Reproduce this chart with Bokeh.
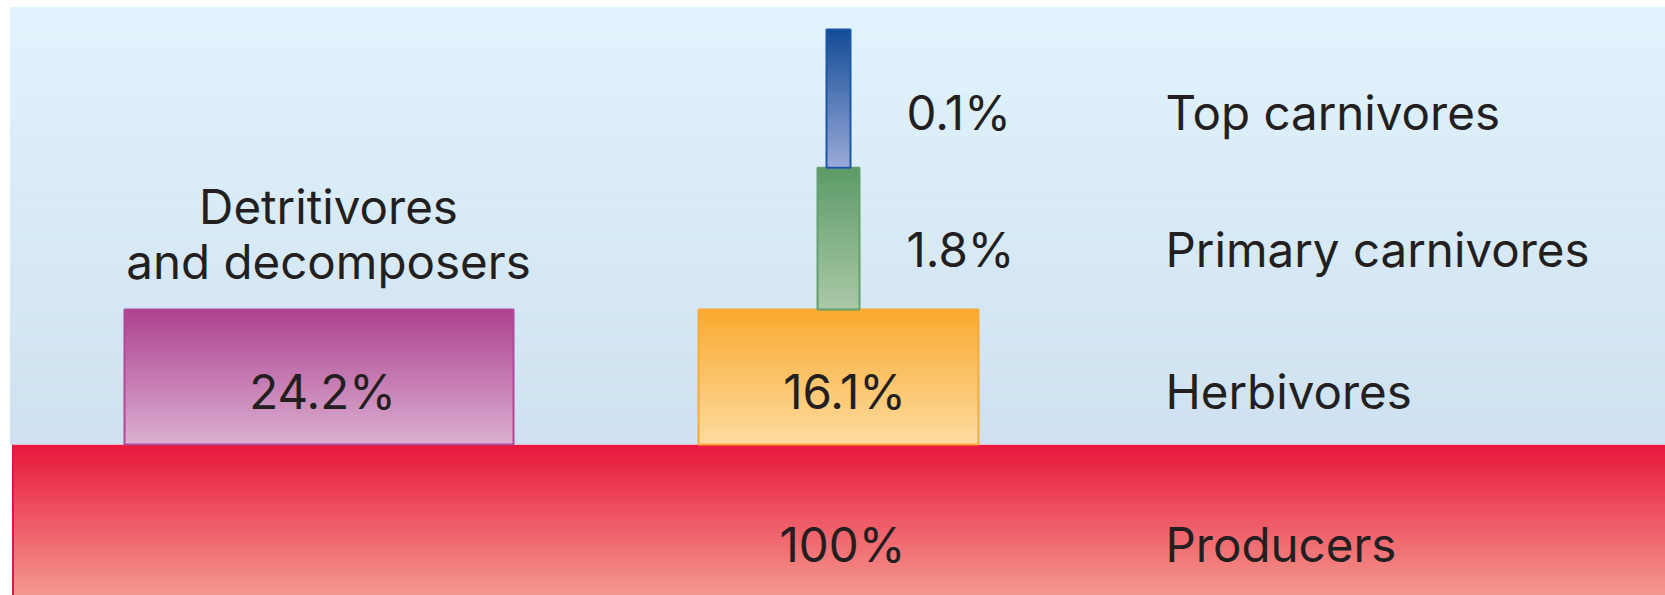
from bokeh.plotting import figure
from bokeh.models import Range1d, ColumnDataSource
from bokeh.core.properties import value
from bokeh.embed import file_html
from bokeh.resources import INLINE

# ---------------- data ----------------
levels = ["Producers", "Herbivores", "Primary carnivores", "Top carnivores"]
energy_pct = [100.0, 16.1, 1.8, 0.1]
detritus_lines = ["Detritivores", "and decomposers"]
detritus_pct = 24.2

# ---------------- layout (diagram geometry / styles) ----------------
# horizontal: page pixels; vertical: trophic level units (level i occupies i..i+1)
col_center = 838
bar_halfwidth = [None, 140, 21, 12]          # producers span full width
detr_left, detr_right = 124, 513
prod_left, prod_right = 12, 1700
bar_top = [1.0, 1.976, 3.0, 4.0]
bar_bottom = [-0.2, 1.0, 1.976, 3.0]
sky_top = 4.159

top_colors = ["#E8173D", "#F9A92E", "#5C9B68", "#124C97"]
bottom_colors = ["#F5A595", "#FEDCA0", "#AAC8A6", "#9AA9D8"]
edge_colors = [None, "#F7AA36", "#63A06D", "#1B57A6"]
detr_top, detr_bottom, detr_edge = "#AE4190", "#DAB0D1", "#B04995"
bg_top, bg_bottom = "#E1F3FC", "#CFE1F0"

label_x = 1165
pct_x = [842, 844, 906, 906]
pct_align = ["center", "center", "left", "left"]
row_baseline = [0.280, 1.383, 2.410, 3.400]
detr_pct_x = 322
detr_label_x = 328
detr_label_y = [2.721, 2.323]

FONT = value("Inter")
FSIZE = "47.5px"
TCOLOR = "#231F20"


def hex2rgb(h):
    h = h.lstrip("#")
    return tuple(int(h[i:i + 2], 16) for i in (0, 2, 4))


def strips(left, right, bottom, top, c_top, c_bot, n=60):
    a, b = hex2rgb(c_top), hex2rgb(c_bot)
    L, R, B, T, C = [], [], [], [], []
    h = (top - bottom) / n
    for i in range(n):
        t = (i + 0.5) / n
        col = "#%02x%02x%02x" % tuple(round(a[k] + (b[k] - a[k]) * t) for k in range(3))
        L.append(left)
        R.append(right)
        T.append(top - i * h)
        B.append(top - (i + 1) * h)
        C.append(col)
    return ColumnDataSource(dict(left=L, right=R, bottom=B, top=T, color=C))


W, H = 1665, 595
p = figure(width=W, height=H, output_backend="svg", toolbar_location=None,
           x_range=Range1d(0, W), y_range=Range1d(-0.0916, 4.2098),
           min_border=0, outline_line_color=None)
p.axis.visible = False
p.grid.visible = False
p.background_fill_color = "white"
p.border_fill_color = "white"


def draw(src):
    p.quad(left="left", right="right", bottom="bottom", top="top", source=src,
           fill_color="color", line_color="color", line_width=1)


# sky background
draw(strips(10, 1700, 1.0, sky_top, bg_top, bg_bottom, n=80))

# producers
draw(strips(prod_left, prod_right, bar_bottom[0], bar_top[0], top_colors[0], bottom_colors[0], n=50))
p.segment(x0=prod_left + 0.5, y0=bar_bottom[0], x1=prod_left + 0.5, y1=bar_top[0],
          line_color="#D81B45", line_width=2)
p.segment(x0=prod_left, y0=bar_top[0], x1=prod_right, y1=bar_top[0],
          line_color="#E9BCCB", line_width=1)

# detritivores
draw(strips(detr_left, detr_right, 1.0, bar_top[1], detr_top, detr_bottom, n=50))
p.quad(left=[detr_left], right=[detr_right], bottom=[1.0], top=[bar_top[1]],
       fill_alpha=0, line_color=detr_edge, line_width=2)

# consumer levels
for i in range(1, 4):
    l = col_center - bar_halfwidth[i]
    r = col_center + bar_halfwidth[i]
    draw(strips(l, r, bar_bottom[i], bar_top[i], top_colors[i], bottom_colors[i], n=50))
    p.quad(left=[l], right=[r], bottom=[bar_bottom[i]], top=[bar_top[i]],
           fill_alpha=0, line_color=edge_colors[i], line_width=2)

# percentage labels
for i in range(4):
    p.text(x=[pct_x[i]], y=[row_baseline[i]], text=[f"{energy_pct[i]:g}%"],
           text_font=FONT, text_font_size=FSIZE, text_color=TCOLOR,
           text_align=pct_align[i], text_baseline="alphabetic")
p.text(x=[detr_pct_x], y=[row_baseline[1]], text=[f"{detritus_pct:g}%"],
       text_font=FONT, text_font_size=FSIZE, text_color=TCOLOR,
       text_align="center", text_baseline="alphabetic")

# level names
p.text(x=[label_x] * 4, y=row_baseline, text=levels,
       text_font=FONT, text_font_size=FSIZE, text_color=TCOLOR,
       text_align="left", text_baseline="alphabetic")
p.text(x=[detr_label_x] * 2, y=detr_label_y, text=detritus_lines,
       text_font=FONT, text_font_size=FSIZE, text_color=TCOLOR,
       text_align="center", text_baseline="alphabetic")

open("out.html", "w").write(file_html(p, INLINE))
